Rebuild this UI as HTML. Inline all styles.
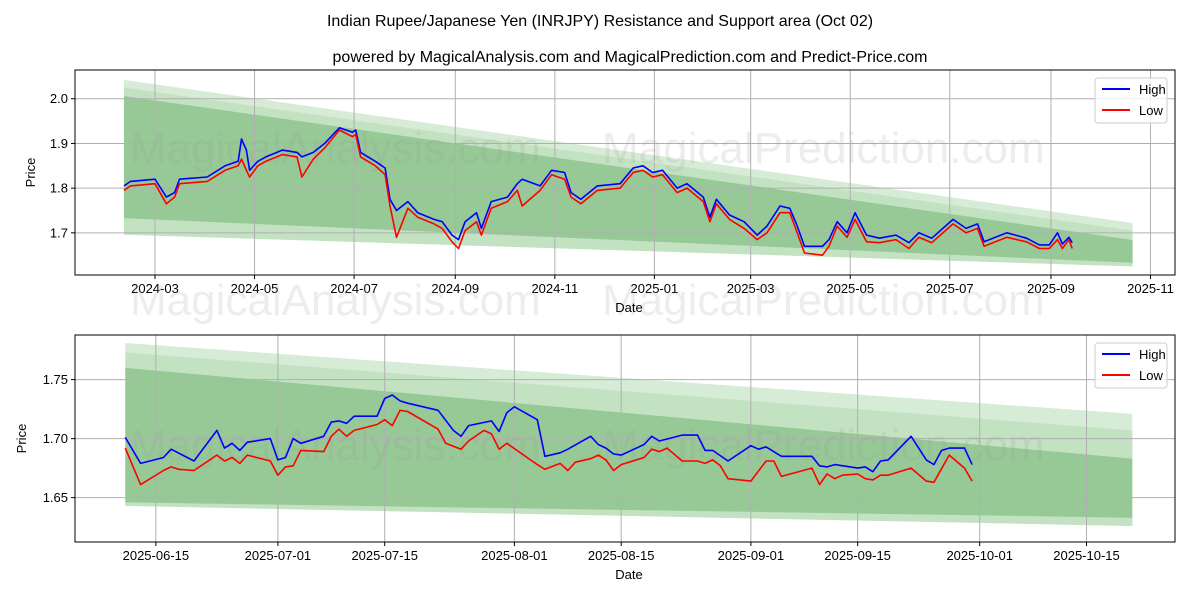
<!DOCTYPE html>
<html><head><meta charset="utf-8"><style>
body{margin:0;background:#fff;}
svg{display:block;font-family:"Liberation Sans","DejaVu Sans",sans-serif;}
</style></head><body>
<svg id="chart" width="1200" height="600" xmlns="http://www.w3.org/2000/svg">
<text x="600" y="26" text-anchor="middle" font-size="16">Indian Rupee/Japanese Yen (INRJPY) Resistance and Support area (Oct 02)</text>
<text x="630" y="62" text-anchor="middle" font-size="16">powered by MagicalAnalysis.com and MagicalPrediction.com and Predict-Price.com</text>
</svg>
<script>
// ---------- top chart data ----------
const topDates=["2024-02-11","2024-02-15","2024-03-01","2024-03-08","2024-03-13","2024-03-16","2024-04-02","2024-04-13","2024-04-21","2024-04-23","2024-04-26","2024-04-28","2024-05-03","2024-05-08","2024-05-18","2024-05-27","2024-05-30","2024-06-06","2024-06-13","2024-06-22","2024-06-30","2024-07-02","2024-07-05","2024-07-14","2024-07-20","2024-07-23","2024-07-27","2024-08-03","2024-08-09","2024-08-19","2024-08-24","2024-08-30","2024-09-03","2024-09-07","2024-09-14","2024-09-17","2024-09-23","2024-10-03","2024-10-09","2024-10-12","2024-10-23","2024-10-30","2024-11-07","2024-11-11","2024-11-17","2024-11-27","2024-12-11","2024-12-19","2024-12-25","2024-12-31","2025-01-06","2025-01-15","2025-01-21","2025-01-31","2025-02-04","2025-02-08","2025-02-16","2025-02-25","2025-03-05","2025-03-11","2025-03-19","2025-03-25","2025-03-29","2025-04-03","2025-04-14","2025-04-18","2025-04-23","2025-04-29","2025-05-04","2025-05-11","2025-05-19","2025-05-29","2025-06-06","2025-06-12","2025-06-20","2025-07-03","2025-07-11","2025-07-18","2025-07-22","2025-08-05","2025-08-17","2025-08-25","2025-08-31","2025-09-05","2025-09-08","2025-09-12","2025-09-14"];
const topHigh=[1.805,1.815,1.82,1.78,1.79,1.82,1.825,1.85,1.86,1.91,1.885,1.84,1.86,1.87,1.885,1.88,1.87,1.88,1.90,1.935,1.925,1.93,1.88,1.86,1.845,1.775,1.75,1.77,1.745,1.73,1.725,1.695,1.685,1.725,1.745,1.71,1.77,1.78,1.81,1.82,1.805,1.84,1.835,1.79,1.775,1.805,1.81,1.845,1.85,1.835,1.84,1.80,1.81,1.78,1.735,1.775,1.74,1.725,1.695,1.715,1.76,1.755,1.72,1.67,1.67,1.685,1.725,1.70,1.745,1.695,1.688,1.695,1.678,1.70,1.688,1.73,1.71,1.72,1.68,1.70,1.688,1.673,1.673,1.70,1.675,1.69,1.678];
const topLow=[1.795,1.805,1.81,1.765,1.78,1.81,1.815,1.84,1.85,1.865,1.84,1.825,1.85,1.86,1.875,1.87,1.825,1.865,1.89,1.93,1.915,1.92,1.87,1.85,1.83,1.76,1.69,1.755,1.735,1.72,1.71,1.68,1.665,1.705,1.725,1.695,1.755,1.77,1.795,1.76,1.795,1.83,1.82,1.78,1.765,1.795,1.80,1.835,1.84,1.825,1.83,1.79,1.80,1.77,1.725,1.765,1.73,1.71,1.685,1.70,1.745,1.745,1.705,1.655,1.65,1.67,1.715,1.69,1.73,1.68,1.678,1.685,1.665,1.69,1.678,1.72,1.70,1.71,1.67,1.69,1.68,1.665,1.665,1.685,1.665,1.685,1.665];
const topBandDates=["2024-02-11","2025-10-21"];
const topUpper1=[2.042,1.722];
const topUpper2=[2.025,1.705];
const topUpper3=[2.006,1.684];
const topLower1=[1.733,1.633];
const topLower2=[1.696,1.625];
const topYTicks=[1.7,1.8,1.9,2.0];
const topXTicks=["2024-03-01","2024-05-01","2024-07-01","2024-09-01","2024-11-01","2025-01-01","2025-03-01","2025-05-01","2025-07-01","2025-09-01","2025-11-01"];
const topXLabels=["2024-03","2024-05","2024-07","2024-09","2024-11","2025-01","2025-03","2025-05","2025-07","2025-09","2025-11"];
// ---------- bottom chart data ----------
const botStart="2025-06-11";
const botHighDays=[0,2,5,6,9,12,13,14,15,16,19,20,21,22,23,26,27,28,29,30,33,34,35,36,37,41,43,44,45,48,49,50,51,54,55,57,58,61,62,63,64,65,68,69,70,73,75,76,77,79,82,83,84,86,90,91,92,93,96,97,98,99,100,103,105,106,107,108,110,111];
const botHigh=[1.701,1.679,1.684,1.691,1.681,1.707,1.692,1.696,1.690,1.697,1.700,1.682,1.684,1.700,1.696,1.702,1.714,1.715,1.713,1.719,1.719,1.734,1.737,1.732,1.730,1.724,1.707,1.702,1.711,1.715,1.706,1.722,1.727,1.716,1.685,1.688,1.691,1.702,1.695,1.692,1.687,1.686,1.695,1.702,1.698,1.703,1.703,1.690,1.690,1.681,1.694,1.691,1.693,1.685,1.685,1.677,1.676,1.678,1.675,1.676,1.672,1.681,1.682,1.702,1.682,1.678,1.690,1.692,1.692,1.678];
const botLowDays=[0,2,5,6,7,9,12,13,14,15,16,19,20,21,22,23,26,27,28,29,30,33,34,35,36,37,41,42,44,45,47,48,49,50,54,55,57,58,59,61,62,63,64,65,68,69,70,71,73,75,76,77,78,79,82,84,85,86,90,91,92,93,94,96,97,98,99,100,103,105,106,108,110,111];
const botLow=[1.692,1.661,1.673,1.676,1.674,1.673,1.686,1.681,1.684,1.679,1.686,1.681,1.669,1.676,1.677,1.690,1.689,1.702,1.708,1.702,1.707,1.712,1.716,1.711,1.724,1.723,1.708,1.696,1.691,1.698,1.707,1.704,1.691,1.696,1.678,1.674,1.679,1.673,1.680,1.683,1.686,1.682,1.673,1.678,1.684,1.691,1.689,1.692,1.681,1.681,1.679,1.682,1.677,1.666,1.664,1.681,1.681,1.668,1.675,1.661,1.670,1.666,1.669,1.670,1.666,1.665,1.669,1.669,1.675,1.664,1.663,1.686,1.675,1.664];
const botBandDays=[0,132];
const botUpper1=[1.781,1.721];
const botUpper2=[1.773,1.707];
const botUpper3=[1.760,1.683];
const botLower1=[1.646,1.633];
const botLower2=[1.643,1.626];
const botYTicks=[1.65,1.70,1.75];
const botXTicks=["2025-06-15","2025-07-01","2025-07-15","2025-08-01","2025-08-15","2025-09-01","2025-09-15","2025-10-01","2025-10-15"];

const svg=document.getElementById('chart');
const NS='http://www.w3.org/2000/svg';
function el(tag,attrs,parent){const e=document.createElementNS(NS,tag);for(const k in attrs)e.setAttribute(k,attrs[k]);(parent||svg).appendChild(e);return e;}
const DAY=86400000;
function t(s){return Date.parse(s+"T00:00:00Z");}
function addDays(s,d){return t(s)+d*DAY;}

function drawPanel(cfg){
  const {L,R,T,B,xMin,xMax,yMin,yMax}=cfg;
  const X=v=>L+(v-xMin)/(xMax-xMin)*(R-L);
  const Y=v=>B-(v-yMin)/(yMax-yMin)*(B-T);
  const g=el('g',{});
  
  
  const bx=cfg.bandX;
  function band(up,lo,color,nm){
    const pts=[[X(bx[0]),Y(up[0])],[X(bx[1]),Y(up[1])],[X(bx[1]),Y(lo[1])],[X(bx[0]),Y(lo[0])]];
    const p=el('polygon',{points:pts.map(p=>p.join(',')).join(' '),fill:color},g);
    
    
  }
  band(cfg.up1,cfg.lo2,'#d6ecd6','band-outer');
  band(cfg.up2,cfg.lo2,'#c2e2c2','band-middle');
  band(cfg.up3,cfg.lo1,'#97c997','band-inner');
  cfg.yTicks.forEach(v=>{const y=Y(v);
    const ln=el('line',{x1:L,x2:R,y1:y,y2:y,stroke:'#b0b0b0','stroke-width':1},g);
    
    el('line',{x1:L-4,x2:L,y1:y,y2:y,stroke:'#000'},g);
    const tx=el('text',{x:L-7,y:y+4.5,'text-anchor':'end','font-size':13},g);tx.textContent=cfg.yFmt(v);
    
  });
  cfg.xTicks.forEach((v,i)=>{const x=X(v);
    const ln=el('line',{x1:x,x2:x,y1:T,y2:B,stroke:'#b0b0b0','stroke-width':1},g);
    
    el('line',{x1:x,x2:x,y1:B,y2:B+4,stroke:'#000'},g);
    const tx=el('text',{x:x,y:B+18,'text-anchor':'middle','font-size':13},g);tx.textContent=cfg.xLabels[i];
    
  });
  cfg.marks.forEach(m=>{const w=el('text',{x:m[0],y:m[1],'font-size':44,fill:'#999','fill-opacity':0.18},g);w.textContent=m[2];
    });
  function line(xs,ys,color,nm){
    const d=xs.map((x,i)=>(i?'L':'M')+X(x).toFixed(1)+','+Y(ys[i]).toFixed(1)).join('');
    const p=el('path',{d:d,fill:'none',stroke:color,'stroke-width':1.6,'stroke-linejoin':'round'},g);
    
    
  }
  line(cfg.hx,cfg.hy,'#0000ff','high-line');
  line(cfg.lx,cfg.ly,'#ff0000','low-line');
  el('rect',{x:L,y:T,width:R-L,height:B-T,fill:'none',stroke:'#000','stroke-width':1},g);
  const xt=el('text',{x:(L+R)/2+4,y:B+37,'text-anchor':'middle','font-size':13},g);xt.textContent='Date';
  
  const yt=el('text',{x:0,y:0,'text-anchor':'middle','font-size':13,transform:`translate(${cfg.yTitleX},${(T+B)/2}) rotate(-90)`},g);yt.textContent='Price';
  
  const lg=el('g',{},g);
  
  
  const lx=R-80,ly=T+8;
  el('rect',{x:lx,y:ly,width:72,height:45,rx:3,fill:'#fff','fill-opacity':0.8,stroke:'#ccc'},lg);
  [['High','#0000ff'],['Low','#ff0000']].forEach((e,i)=>{
    const yy=ly+11+i*21;
    const ent=el('g',{},lg);
    
    
    el('line',{x1:lx+7,x2:lx+35,y1:yy,y2:yy,stroke:e[1],'stroke-width':2},ent);
    const tx=el('text',{x:lx+44,y:yy+5,'font-size':13},ent);tx.textContent=e[0];
  });
}

drawPanel({name:'top-panel',L:75,R:1175,T:70,B:275,
  xMin:t("2024-01-12"),xMax:t("2025-11-16"),yMin:1.6057,yMax:2.0643,
  bandX:topBandDates.map(t),up1:topUpper1,up2:topUpper2,up3:topUpper3,lo1:topLower1,lo2:topLower2,
  yTicks:topYTicks,yFmt:v=>v.toFixed(1),xTicks:topXTicks.map(t),xLabels:topXLabels,
  hx:topDates.map(t),hy:topHigh,lx:topDates.map(t),ly:topLow,yTitleX:35,
  marks:[[130,163,'MagicalAnalysis.com'],[602,163,'MagicalPrediction.com'],[130,315,'MagicalAnalysis.com'],[602,315,'MagicalPrediction.com']]});

drawPanel({name:'bottom-panel',L:75,R:1175,T:335,B:542,
  xMin:addDays(botStart,-6.6),xMax:addDays(botStart,137.6),yMin:1.6124,yMax:1.7878,
  bandX:botBandDays.map(d=>addDays(botStart,d)),up1:botUpper1,up2:botUpper2,up3:botUpper3,lo1:botLower1,lo2:botLower2,
  yTicks:botYTicks,yFmt:v=>v.toFixed(2),xTicks:botXTicks.map(t),xLabels:botXTicks,
  hx:botHighDays.map(d=>addDays(botStart,d)),hy:botHigh,lx:botLowDays.map(d=>addDays(botStart,d)),ly:botLow,yTitleX:26,
  marks:[[130,460,'MagicalAnalysis.com'],[602,460,'MagicalPrediction.com']]});
</script>
</body></html>
